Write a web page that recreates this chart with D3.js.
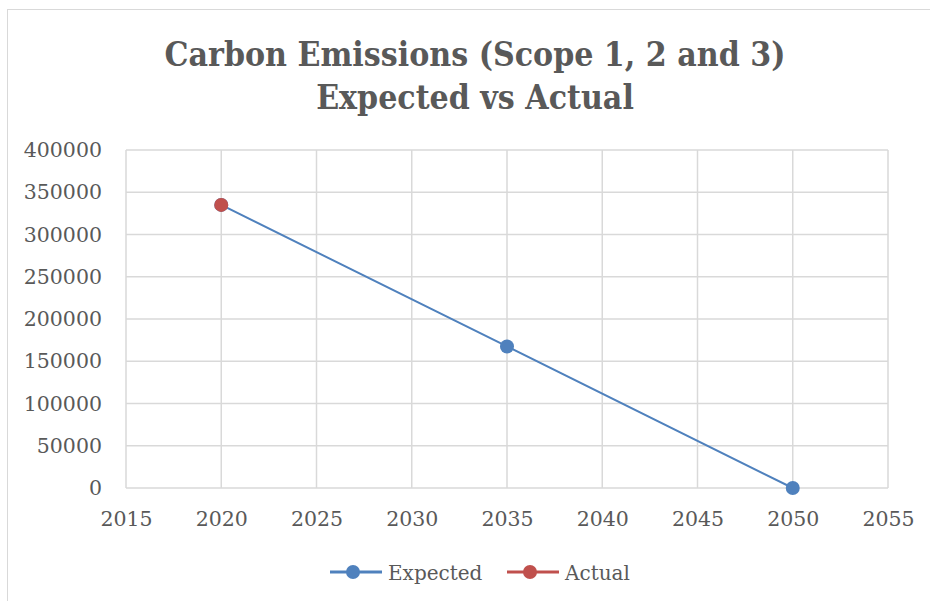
<!DOCTYPE html>
<html>
<head>
<meta charset="utf-8">
<script src="https://cdn.jsdelivr.net/npm/d3@7"></script>
<style>
  body { margin: 0; background: #fff; }
  text { font-family: "DejaVu Serif", serif; fill: #595959; }
</style>
</head>
<body>
<script>
const svgW = 930;
const svgH = 601;

// 数据
const years = [2020, 2035, 2050];
const expected = [335000, 167500, 0];
const actualYears = [2020];
const actual = [335000];
const xTicks = [2015, 2020, 2025, 2030, 2035, 2040, 2045, 2050, 2055];
const yTicks = [0, 50000, 100000, 150000, 200000, 250000, 300000, 350000, 400000];
const seriesNames = ['Expected', 'Actual'];
const colors = ['#4f81bd', '#c0504d'];

const plot = { left: 126, top: 150, right: 888, bottom: 488 };

const svg = d3.select('body')
              .append('svg')
              .attr('width', svgW)
              .attr('height', svgH);

// 外框
svg.append('rect')
   .attr('x', 7.5).attr('y', 9.5)
   .attr('width', 940).attr('height', 620)
   .attr('fill', 'none')
   .attr('stroke', '#d9d9d9')
   .attr('stroke-width', 1);

// 标题
const title = svg.append('text')
   .attr('text-anchor', 'middle')
   .attr('font-weight', 'bold')
   .attr('font-size', 33.5)
   .style('font-family', '"DejaVu Serif Condensed", "DejaVu Serif", serif');
title.append('tspan').attr('x', 475).attr('y', 66).text('Carbon Emissions (Scope 1, 2 and 3)');
title.append('tspan').attr('x', 475).attr('y', 109).text('Expected vs Actual');

const xScale = d3.scaleLinear()
                 .domain([xTicks[0], xTicks[xTicks.length - 1]])
                 .range([plot.left, plot.right]);
const yScale = d3.scaleLinear()
                 .domain([0, d3.max(yTicks)])
                 .range([plot.bottom, plot.top]);

// 网格
const grid = svg.append('g').attr('stroke', '#d9d9d9').attr('stroke-width', 1.5);
grid.selectAll('.hy').data(yTicks).enter().append('line')
    .attr('x1', plot.left).attr('x2', plot.right)
    .attr('y1', d => yScale(d)).attr('y2', d => yScale(d));
grid.selectAll('.vx').data(xTicks).enter().append('line')
    .attr('y1', plot.top).attr('y2', plot.bottom)
    .attr('x1', d => xScale(d)).attr('x2', d => xScale(d));

// y坐标轴
const yAxis = d3.axisLeft(yScale).tickValues(yTicks).tickSize(0).tickPadding(24).tickFormat(d => d);
svg.append('g')
   .attr('transform', `translate(${plot.left}, 0)`)
   .call(yAxis)
   .call(g => g.select('.domain').remove())
   .selectAll('text')
   .attr('font-size', 20.5)
   .attr('fill', '#595959')
   .style('font-family', '"DejaVu Serif", serif');

// x坐标轴
const xAxis = d3.axisBottom(xScale).tickValues(xTicks).tickSize(0).tickPadding(23).tickFormat(d => d);
svg.append('g')
   .attr('transform', `translate(0, ${plot.bottom})`)
   .call(xAxis)
   .call(g => g.select('.domain').remove())
   .selectAll('text')
   .attr('font-size', 20.5)
   .attr('fill', '#595959')
   .style('font-family', '"DejaVu Serif", serif');

// 折线
const line = d3.line().x(d => xScale(d[0])).y(d => yScale(d[1]));
const expData = years.map((y, i) => [y, expected[i]]);
const actData = actualYears.map((y, i) => [y, actual[i]]);

svg.append('path')
   .datum(expData)
   .attr('d', line)
   .attr('fill', 'none')
   .attr('stroke', colors[0])
   .attr('stroke-width', 2);

svg.selectAll('.exp').data(expData).enter().append('circle')
   .attr('cx', d => xScale(d[0])).attr('cy', d => yScale(d[1]))
   .attr('r', 7).attr('fill', colors[0]);

svg.selectAll('.act').data(actData).enter().append('circle')
   .attr('cx', d => xScale(d[0])).attr('cy', d => yScale(d[1]))
   .attr('r', 7).attr('fill', colors[1]);

// 图例
const legendX = [330, 507];
const lg = svg.selectAll('.legend').data(seriesNames).enter().append('g')
   .attr('transform', (d, i) => `translate(${legendX[i]}, 572)`);
lg.append('line').attr('x1', 0).attr('x2', 52).attr('y1', 0).attr('y2', 0)
  .attr('stroke', (d, i) => colors[i]).attr('stroke-width', 3);
lg.append('circle').attr('cx', 23).attr('cy', 0).attr('r', 7)
  .attr('fill', (d, i) => colors[i]);
lg.append('text').attr('x', 58).attr('y', 7.5).attr('font-size', 20).text(d => d);
</script>
</body>
</html>
